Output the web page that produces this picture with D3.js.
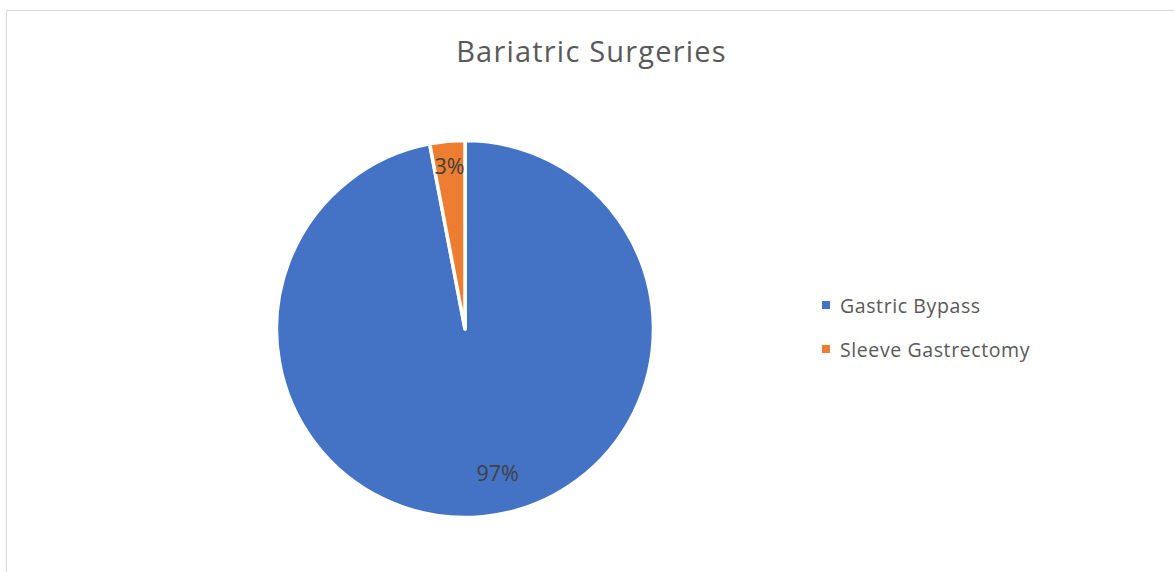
<!DOCTYPE html>
<html>
<head>
<meta charset="utf-8">
<script src="https://cdn.jsdelivr.net/npm/d3@7"></script>
<style>
  html, body { margin: 0; padding: 0; background: #fff; }
  svg { display: block; }
  text { font-family: "Open Sans", Lato, sans-serif; }
</style>
</head>
<body>
<svg id="chart" width="1174" height="572"></svg>
<script>
// Share of bariatric procedures by type
const categories = ["Gastric Bypass", "Sleeve Gastrectomy"];
const values = [97, 3];
const colors = ["#4472C4", "#ED7D31"];
const title = "Bariatric Surgeries";

const W = 1174, H = 572;
const svg = d3.select("#chart");

// chart frame
svg.append("rect")
  .attr("x", 6.5).attr("y", 10.5)
  .attr("width", W + 20).attr("height", H + 20)
  .attr("fill", "#fff").attr("stroke", "#d9d9d9").attr("stroke-width", 1);

svg.append("text")
  .attr("x", 591.5).attr("y", 62)
  .attr("text-anchor", "middle")
  .attr("fill", "#595959")
  .attr("font-size", 29)
  .attr("letter-spacing", 1.2)
  .text(title);

const cx = 465, cy = 329, R = 188.5;
const data = categories.map((c, i) => ({ name: c, value: values[i], color: colors[i] }));
const total = d3.sum(values);

const pie = d3.pie().sort(null).value(d => d.value);
const arcs = pie(data);
const arc = d3.arc().innerRadius(0).outerRadius(R);

const g = svg.append("g").attr("transform", `translate(${cx},${cy})`);

g.selectAll("path.slice")
  .data(arcs)
  .join("path")
  .attr("class", "slice")
  .attr("d", arc)
  .attr("fill", d => d.data.color)
  .attr("stroke", "#fff")
  .attr("stroke-width", 3.5)
  .attr("stroke-linejoin", "round");

// label placement: radius as fraction of R plus a small angular nudge (radians)
const labelPlace = [{ r: 0.78, da: -0.13 }, { r: 0.87, da: 0 }];
const fmt = d3.format(".0%");

g.selectAll("text.lbl")
  .data(arcs)
  .join("text")
  .attr("class", "lbl")
  .attr("text-anchor", "middle")
  .attr("dominant-baseline", "central")
  .attr("fill", "#404040")
  .attr("font-size", 21.5)
  .attr("transform", (d, i) => {
    const a = (d.startAngle + d.endAngle) / 2 + labelPlace[i].da;
    const r = R * labelPlace[i].r;
    return `translate(${r * Math.sin(a)},${-r * Math.cos(a)})`;
  })
  .text(d => fmt(d.data.value / total));

// legend
const legend = svg.append("g").attr("transform", "translate(822,301)");
const items = legend.selectAll("g.item")
  .data(data)
  .join("g")
  .attr("class", "item")
  .attr("transform", (d, i) => `translate(0,${i * 44})`);

items.append("rect")
  .attr("width", 8).attr("height", 8)
  .attr("fill", d => d.color);

items.append("text")
  .attr("x", 18).attr("y", 12)
  .attr("fill", "#595959")
  .attr("font-size", 19.5)
  .attr("letter-spacing", 0.6)
  .text(d => d.name);
</script>
</body>
</html>
